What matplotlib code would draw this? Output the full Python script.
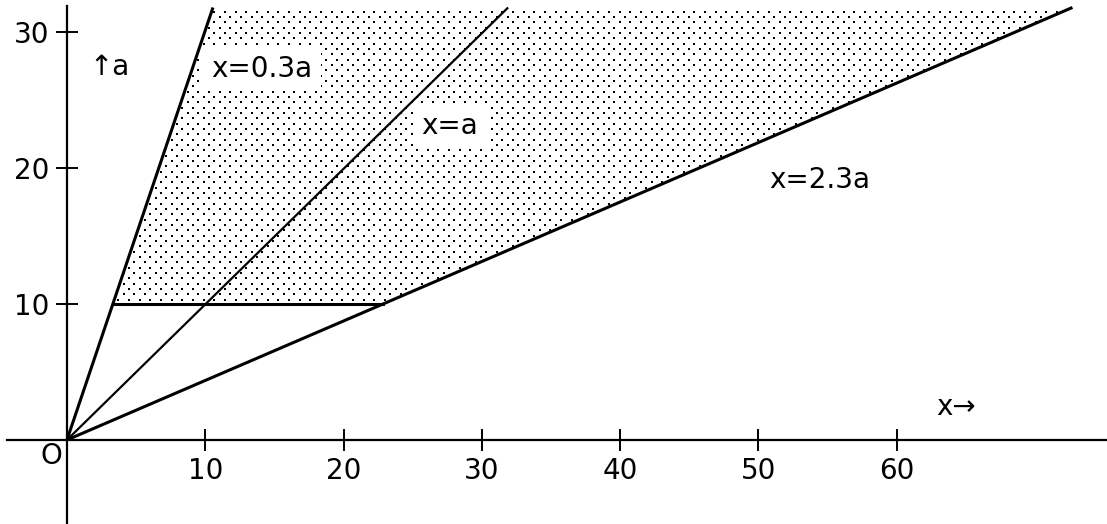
import numpy as np
import matplotlib
matplotlib.use("Agg")
import matplotlib.pyplot as plt
from matplotlib.patches import Polygon

# ---- data ----
line_labels = ["x=0.3a", "x=a", "x=2.3a"]
line_x_end = [10.56, 31.9, 72.7]     # x at the top end of each line
line_a_end = [31.8, 31.8, 31.8]      # a at the top end of each line
floor_a = 10                          # lower bound of shaded region
x_ticks = [10, 20, 30, 40, 50, 60]
a_ticks = [10, 20, 30]
label_x = [14.1, 27.7, 54.4]
label_a = [27.3, 23.1, 19.1]

W, H, DPI = 1107, 524, 100
XLIM = (-4.84, 75.2)
YLIM = (-6.18, 32.35)
FS = 20

plt.rcParams['font.family'] = ['DejaVu Sans']
fig = plt.figure(figsize=(W / DPI, H / DPI), dpi=DPI)
ax = fig.add_axes([0, 0, 1, 1])
ax.set_xlim(*XLIM)
ax.set_ylim(*YLIM)

# axes through the origin
for s in ['top', 'right']:
    ax.spines[s].set_visible(False)
ax.spines['left'].set_position('zero')
ax.spines['bottom'].set_position('zero')
ax.spines['left'].set_bounds(YLIM[0], 31.9)
ax.spines['bottom'].set_bounds(-4.3, XLIM[1])
for s in ['left', 'bottom']:
    ax.spines[s].set_linewidth(1.6)
ax.set_xticks(x_ticks)
ax.set_yticks(a_ticks)
ax.tick_params(axis='both', direction='inout', length=16, width=1.4,
               labelsize=FS, colors='black')
ax.tick_params(axis='x', pad=4)
ax.tick_params(axis='y', pad=5)

# shaded region (dotted texture clipped to polygon)
slope_lo = line_x_end[0] / line_a_end[0]
slope_hi = line_x_end[2] / line_a_end[2]
top = line_a_end[0]
poly_pts = [(slope_lo * floor_a, floor_a), (slope_hi * floor_a, floor_a),
            (line_x_end[2], top), (line_x_end[0], top)]
poly = Polygon(poly_pts, closed=True, fill=False, lw=0)
ax.add_patch(poly)

tex = np.ones((H, W, 4))
rp, cp = 16 / 3, 32 / 3
for r in range(int(H / rp) + 1):
    y0 = int(round(r * rp))
    off = (r % 2) * cp / 2
    for c in range(int(W / cp) + 2):
        x0 = int(round(c * cp + off))
        tex[y0:y0 + 2, x0:x0 + 2, :3] = 0.0
img = ax.imshow(tex, extent=(XLIM[0], XLIM[1], YLIM[0], YLIM[1]),
                aspect='auto', interpolation='nearest', origin='upper', zorder=1)
img.set_clip_path(poly)

# lines from origin (drawn above label boxes)
lws = [2.2, 1.6, 2.2]
for xe, ae, lw in zip(line_x_end, line_a_end, lws):
    ax.plot([0, xe], [0, ae], color='black', lw=lw, zorder=5,
            solid_capstyle='butt')
ax.plot([slope_lo * floor_a, slope_hi * floor_a], [floor_a, floor_a],
        color='black', lw=2.2, zorder=5)

# labels
for t, lx, la in zip(line_labels, label_x, label_a):
    ax.text(lx, la, t, fontsize=FS, ha='center', va='center', zorder=4,
            bbox=dict(facecolor='white', edgecolor='none', pad=6))
ax.text(3.04, 27.4, "↑a", fontsize=FS, ha='center', va='center', zorder=4)
ax.text(64.3, 2.4, "x→", fontsize=FS, ha='center', va='center', zorder=4)
ax.text(-1.1, -1.2, "O", fontsize=FS, ha='center', va='center', zorder=4)

fig.savefig("out.png", dpi=DPI)
